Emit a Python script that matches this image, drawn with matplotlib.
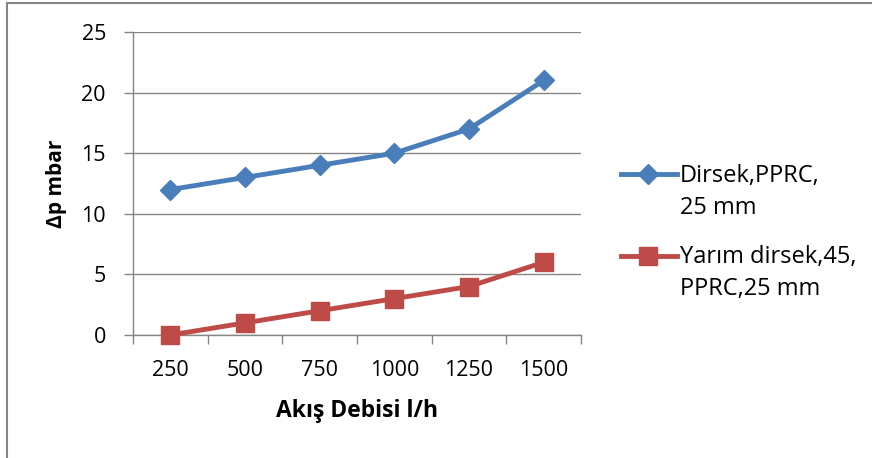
import matplotlib
matplotlib.use("Agg")
import matplotlib.pyplot as plt
from matplotlib.lines import Line2D

categories = ["250", "500", "750", "1000", "1250", "1500"]
dirsek = [12, 13, 14, 15, 17, 21]
yarim = [0, 1, 2, 3, 4, 6]
series_lines = [["Dirsek,PPRC,", "25 mm"], ["Yarım dirsek,45,", "PPRC,25 mm"]]
yticks = [0, 5, 10, 15, 20, 25]

plt.rcParams['font.family'] = ['Open Sans', 'DejaVu Sans']

W, H = 872, 458
fig = plt.figure(figsize=(W / 100, H / 100), dpi=100)
ax = fig.add_axes([133 / W, 1 - 335 / H, (581 - 133) / W, (335 - 32) / H])

blue = "#4a7ebb"
red = "#be4b48"
x = list(range(len(categories)))
ax.plot(x, dirsek, color=blue, lw=3.5, marker="D", ms=10, zorder=3, clip_on=False)
ax.plot(x, yarim, color=red, lw=3.5, marker="s", ms=13, zorder=3, clip_on=False)

ax.set_xlim(-0.5, len(categories) - 0.5)
ax.set_ylim(0, 25)
ax.set_yticks(yticks)
ax.set_yticklabels([str(v) for v in yticks], fontsize=15.5)
ax.set_xticks(x)
ax.set_xticklabels(categories, fontsize=15.5)
ax.set_xticks([i - 0.5 for i in range(len(categories) + 1)], minor=True)
ax.tick_params(axis="x", which="major", length=0, pad=18)
ax.tick_params(axis="x", which="minor", length=6.5, color="#868686", width=1)
ax.tick_params(axis="y", which="major", length=6.5, color="#868686", width=1, pad=13)

ax.grid(axis="y", color="#868686", lw=1)
ax.set_axisbelow(True)
for s in ["top", "right"]:
    ax.spines[s].set_visible(False)
for s in ["left", "bottom"]:
    ax.spines[s].set_color("#868686")
    ax.spines[s].set_linewidth(1)

ax.set_xlabel("Akış Debisi l/h", fontsize=16.5, fontweight="bold", labelpad=13)
ax.set_ylabel("Δp mbar", fontsize=15, fontweight="bold", labelpad=10)

def fx(px):
    return px / W

def fy(py):
    return 1 - py / H

# legend (handle aligned with first line of each entry, as in the reference)
entries = [(blue, "D", 10, 174, 182), (red, "s", 13, 256, 263)]
for (col, mk, ms, ymk, ybase), lines in zip(entries, series_lines):
    fig.add_artist(Line2D([fx(621), fx(677)], [fy(ymk), fy(ymk)], color=col, lw=3.5,
                          transform=fig.transFigure))
    fig.add_artist(Line2D([fx(648)], [fy(ymk)], color=col, marker=mk, ms=ms, lw=0,
                          transform=fig.transFigure))
    fig.text(fx(680), fy(ybase), lines[0], fontsize=17, va="baseline", ha="left")
    fig.text(fx(680), fy(ybase + 32), lines[1], fontsize=17, va="baseline", ha="left")

# outer chart border
fig.add_artist(Line2D([fx(7), fx(7)], [0, fy(3)], color="#868686", lw=1.5, transform=fig.transFigure))
fig.add_artist(Line2D([fx(7), 1], [fy(3), fy(3)], color="#868686", lw=1.5, transform=fig.transFigure))

fig.savefig("out.png", dpi=100)
